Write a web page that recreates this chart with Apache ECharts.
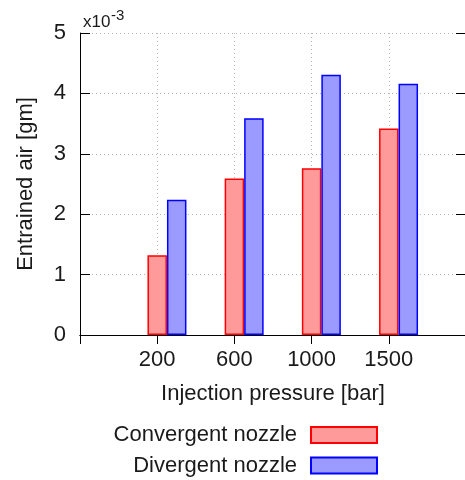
<!DOCTYPE html>
<html>
<head>
<meta charset="utf-8">
<script src="https://cdn.jsdelivr.net/npm/echarts@6/dist/echarts.min.js"></script>
<style>
  html, body { margin: 0; padding: 0; background: #fff; }
  #chart { width: 465px; height: 480px; }
</style>
</head>
<body>
<div id="chart"></div>
<script>
// injection pressure categories [bar]
const pressures = ['200', '600', '1000', '1500'];
// entrained air, in units of 1e-3 gm
const convergent = [1.32, 2.59, 2.76, 3.42];
const divergent = [2.24, 3.59, 4.31, 4.16];
const yTicks = [0, 1, 2, 3, 4, 5];

const FONT = 'Liberation Sans';
const ink = '#1a1a1a';

// gnuplot-style x range -1..4 : one empty slot each side
const xCats = [''].concat(pressures, ['']);
const pad = v => ['-'].concat(v, ['-']);

const chart = echarts.init(document.getElementById('chart'));

const gridLine = { show: true, lineStyle: { color: '#b5b5b5', type: [1, 3], width: 1 } };
const frame = { show: true, lineStyle: { color: '#000', width: 1 } };

const option = {
  animation: false,
  textStyle: { fontFamily: FONT },
  // right frame edge falls just outside the picture, as in the source
  grid: { left: 80, top: 33, right: -1, bottom: 145, outerBoundsMode: 'none', containLabel: false },
  graphic: [
    { type: 'text', left: 83, top: 14, style: { text: 'x10', font: '17px ' + FONT, fill: ink } },
    { type: 'text', left: 111, top: 8, style: { text: '-3', font: '15px ' + FONT, fill: ink } }
  ],
  legend: {
    data: ['Convergent nozzle', 'Divergent nozzle'],
    orient: 'vertical',
    align: 'right',
    right: 87,
    top: 423,
    padding: 0,
    icon: 'rect',
    itemWidth: 66,
    itemHeight: 16,
    itemGap: 6.5,
    textStyle: { fontSize: 22, lineHeight: 24, color: ink, fontFamily: FONT, padding: [0, 9, 0, 0] }
  },
  xAxis: [
    {
      type: 'category',
      data: xCats,
      boundaryGap: false,
      position: 'bottom',
      axisLine: frame,
      axisTick: { show: false },
      splitLine: gridLine,
      axisLabel: { interval: 0, fontSize: 22, color: ink, margin: 14 },
      name: 'Injection pressure [bar]',
      nameLocation: 'middle',
      nameGap: 48,
      nameTextStyle: { fontSize: 22, color: ink }
    },
    {
      type: 'category',
      data: xCats,
      boundaryGap: false,
      position: 'top',
      axisLine: frame,
      axisTick: { show: true, inside: true, length: 9, interval: 0, lineStyle: { color: '#000' } },
      axisLabel: { show: false },
      splitLine: { show: false }
    }
  ],
  yAxis: [
    {
      type: 'value',
      min: yTicks[0],
      max: yTicks[yTicks.length - 1],
      interval: 1,
      position: 'left',
      axisLine: frame,
      axisTick: { show: true, inside: true, length: 10, lineStyle: { color: '#000' } },
      splitLine: gridLine,
      axisLabel: { fontSize: 22, color: ink, margin: 14 },
      name: 'Entrained air [gm]',
      nameLocation: 'middle',
      nameGap: 43,
      nameTextStyle: { fontSize: 22, color: ink }
    },
    {
      type: 'value',
      min: yTicks[0],
      max: yTicks[yTicks.length - 1],
      interval: 1,
      position: 'right',
      axisLine: frame,
      axisTick: { show: true, inside: true, length: 10, lineStyle: { color: '#000' } },
      splitLine: { show: false },
      axisLabel: { show: false }
    }
  ],
  series: [
    // empty slot so the convergent bar sits centred on its tick, like gnuplot
    { name: 'spacer', type: 'bar', data: pad([]), barWidth: 19.5, barGap: '0%' },
    {
      name: 'Convergent nozzle',
      type: 'bar',
      data: pad(convergent),
      barWidth: 19.5,
      barGap: '0%',
      itemStyle: { color: '#ff9a9a', borderColor: '#f00', borderWidth: 1.5 }
    },
    {
      name: 'Divergent nozzle',
      type: 'bar',
      data: pad(divergent),
      barWidth: 19.5,
      barGap: '0%',
      itemStyle: { color: '#9a9aff', borderColor: '#00f', borderWidth: 1.5 }
    }
  ]
};

chart.setOption(option);
</script>
</body>
</html>
